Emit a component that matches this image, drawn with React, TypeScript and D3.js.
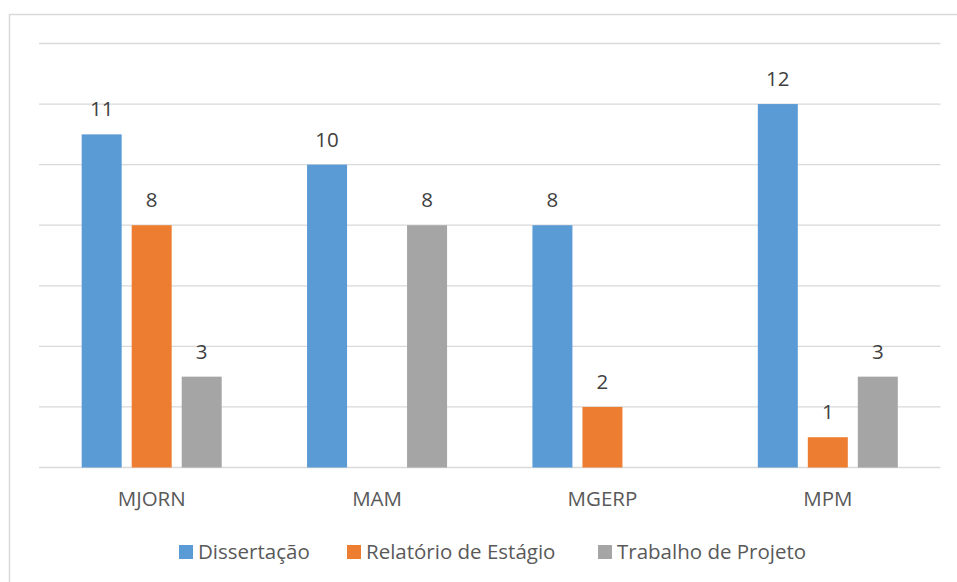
import React from "react";
import * as d3 from "d3";

const categories = ["MJORN", "MAM", "MGERP", "MPM"];
const seriesNames = ["Dissertação", "Relatório de Estágio", "Trabalho de Projeto"];
const dissertacao = [11, 10, 8, 12];
const relatorio = [8, 0, 2, 1];
const trabalho = [3, 8, 0, 3];
const yTicks = [0, 2, 4, 6, 8, 10, 12, 14];
const colors = ["#5b9bd5", "#ed7d31", "#a5a5a5"];

const W = 957;
const H = 582;
const FONT = "'Open Sans', sans-serif";

export default function App() {
  const series = [dissertacao, relatorio, trabalho];
  const x0 = d3.scaleBand<string>().domain(categories).range([39, 940.5]).paddingInner(0).paddingOuter(0);
  const y = d3.scaleLinear().domain([0, 14]).range([467.5, 43.5]);
  const barW = 40;
  const gap = 10;
  const groupW = barW * 3 + gap * 2;
  const x1 = d3
    .scaleBand<number>()
    .domain([0, 1, 2])
    .range([0, groupW])
    .paddingInner(gap / (barW + gap))
    .paddingOuter(0);

  const legendX = [179, 347, 598];
  const fs = 20.5;

  return (
    <svg
      width={W}
      height={H}
      style={{ position: "absolute", left: 0, top: 0, background: "#fff" }}
      fontFamily={FONT}
    >
      <rect x={9.5} y={14.5} width={1000} height={1000} fill="#fff" stroke="#d9d9d9" strokeWidth={1.5} />
      {yTicks.map((t) => (
        <line key={t} x1={39} x2={940.5} y1={y(t)} y2={y(t)} stroke="#d9d9d9" strokeWidth={1.3} />
      ))}
      {categories.map((c, ci) => {
        const gx = (x0(c) as number) + (x0.bandwidth() - groupW) / 2;
        return (
          <g key={c}>
            {series.map((s, si) => {
              const v = s[ci];
              const bx = gx + (x1(si) as number);
              return (
                <g key={si}>
                  {v > 0 && (
                    <rect x={bx} y={y(v)} width={x1.bandwidth()} height={y(0) - y(v)} fill={colors[si]} />
                  )}
                  {v > 0 && (
                    <text
                      x={bx + x1.bandwidth() / 2}
                      y={y(v) - 18}
                      textAnchor="middle"
                      fontSize={fs}
                      fill="#404040"
                    >
                      {v}
                    </text>
                  )}
                </g>
              );
            })}
            <text
              x={(x0(c) as number) + x0.bandwidth() / 2}
              y={506}
              textAnchor="middle"
              fontSize={fs}
              fill="#595959"
            >
              {c}
            </text>
          </g>
        );
      })}
      {seriesNames.map((n, i) => (
        <g key={n}>
          <rect x={legendX[i]} y={545} width={14} height={14} fill={colors[i]} />
          <text x={legendX[i] + 19} y={559} fontSize={fs} fill="#595959">
            {n}
          </text>
        </g>
      ))}
    </svg>
  );
}
